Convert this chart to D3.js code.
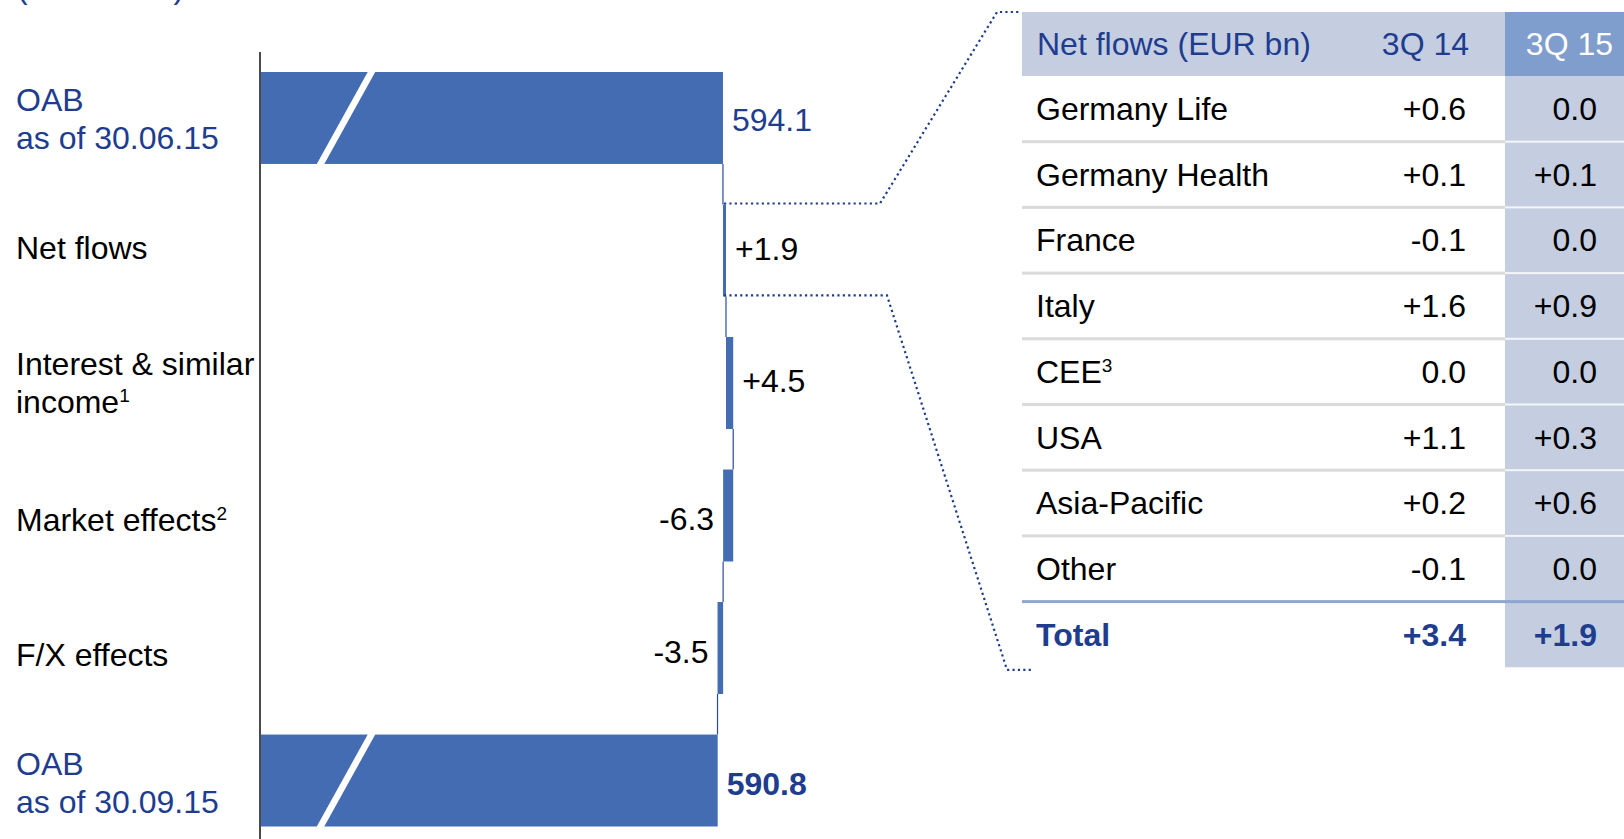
<!DOCTYPE html>
<html>
<head>
<meta charset="utf-8">
<script src="https://cdn.jsdelivr.net/npm/d3@7"></script>
<style>
  html, body { margin: 0; padding: 0; background: #fff; }
  svg { display: block; font-family: "Liberation Sans", Arial, sans-serif; }
</style>
</head>
<body>
<svg id="chart" width="1624" height="839"></svg>
<script>
// ---- Waterfall: OAB development (EUR bn) ----
const unitNote   = "(in EUR bn)";
const stepLabels = [["OAB", "as of 30.06.15"], ["Net flows"], ["Interest & similar", "income"],
                    ["Market effects"], ["F/X effects"], ["OAB", "as of 30.09.15"]];
const stepNotes  = ["", "", "1", "2", "", ""];
const stepKinds  = ["total", "delta", "delta", "delta", "delta", "total"];
const stepValues = [594.1, 1.9, 4.5, -6.3, -3.5, 590.8];

// ---- Net flows by region ----
const tableColumns = ["Net flows (EUR bn)", "3Q 14", "3Q 15"];
const regions      = ["Germany Life", "Germany Health", "France", "Italy", "CEE", "USA", "Asia-Pacific", "Other"];
const regionNotes  = ["", "", "", "", "3", "", "", ""];
const flows3Q14    = [0.6, 0.1, -0.1, 1.6, 0.0, 1.1, 0.2, -0.1];
const flows3Q15    = [0.0, 0.1, 0.0, 0.9, 0.0, 0.3, 0.6, 0.0];
const totalLabel   = "Total";
const totals       = [3.4, 1.9];

// ---- styling / layout ----
const BLUE_TEXT = "#1e3d8f";
const BAR = "#446cb3";
const FS = 32;
const SUP = 19;
// small vertical offsets of the row captions and value labels (px)
const captionShift = [1, -3, 0, 4, 7, 2];
const valueShift   = [2, -2, -2, 3, 4, 3];

const fmtDelta = v => v === 0 ? "0.0" : (v > 0 ? "+" : "-") + Math.abs(v).toFixed(1);
const fmtTotal = d3.format(".1f");

const svg = d3.select("#chart");

// running totals for the waterfall
let run = 0;
const steps = stepValues.map((v, i) => {
  let s;
  if (stepKinds[i] === "total") { s = { i, v, kind: "total", from: null, to: v }; run = v; }
  else { s = { i, v, kind: "delta", from: run, to: run + v }; run += v; }
  s.end = run;
  return s;
});

// value axis is broken: totals start at the axis line, deltas are to scale
const axisX = 260;
const x = d3.scaleLinear().domain([590, 600]).range([716.4, 732.4]);
const y = d3.scaleBand().domain(d3.range(stepValues.length)).range([72, 826.5]).paddingInner(0.306);
const bw = y.bandwidth();
const cy = i => y(i) + bw / 2;

// unit note (partly above the visible area)
svg.append("text").attr("x", 17).attr("y", -2)
  .attr("font-size", FS).attr("fill", BLUE_TEXT).text(unitNote);

// category labels
steps.forEach(s => {
  const lines = stepLabels[s.i];
  const lh = 38.3;
  const blue = s.kind === "total";
  lines.forEach((ln, k) => {
    const t = svg.append("text")
      .attr("x", 16)
      .attr("y", cy(s.i) + captionShift[s.i] + (k - (lines.length - 1) / 2) * lh)
      .attr("dy", "0.35em")
      .attr("font-size", FS)
      .attr("fill", blue ? BLUE_TEXT : "#000")
      .text(ln);
    if (k === lines.length - 1 && stepNotes[s.i]) {
      t.append("tspan").attr("font-size", SUP).attr("dy", -11).text(stepNotes[s.i]);
    }
  });
});

// connectors between consecutive bars
const conn = svg.append("g").attr("stroke", "#2b4a9a").attr("stroke-width", 1.2);
steps.slice(0, -1).forEach(s => {
  const xx = x(s.end);
  conn.append("line").attr("x1", xx).attr("x2", xx)
    .attr("y1", y(s.i) + bw).attr("y2", y(s.i + 1));
});

// bars
steps.forEach(s => {
  if (s.kind === "total") {
    svg.append("rect").attr("x", axisX).attr("y", y(s.i))
      .attr("width", x(s.to) - axisX).attr("height", bw).attr("fill", BAR);
    // break mark
    const top = y(s.i) - 0.5, bot = y(s.i) + bw + 0.5;
    svg.append("polygon")
      .attr("points", [[axisX + 108, top], [axisX + 115.5, top], [axisX + 64, bot], [axisX + 56.5, bot]].join(" "))
      .attr("fill", "#fff");
  } else {
    const a = x(Math.min(s.from, s.to)), b = x(Math.max(s.from, s.to));
    svg.append("rect").attr("x", a).attr("y", y(s.i))
      .attr("width", b - a).attr("height", bw).attr("fill", BAR);
  }
});

// axis line
svg.append("line").attr("x1", axisX).attr("x2", axisX).attr("y1", 52).attr("y2", 839)
  .attr("stroke", "#4a4a4a").attr("stroke-width", 2);

// value labels
steps.forEach(s => {
  const t = svg.append("text").attr("y", cy(s.i) + valueShift[s.i]).attr("dy", "0.35em").attr("font-size", FS);
  if (s.kind === "total") {
    t.attr("x", x(s.to) + 9).attr("fill", BLUE_TEXT)
      .attr("font-weight", s.i === steps.length - 1 ? "bold" : "normal")
      .text(fmtTotal(s.v));
  } else if (s.v >= 0) {
    t.attr("x", x(s.to) + 9).attr("fill", "#000").text(fmtDelta(s.v));
  } else {
    t.attr("x", x(s.from + s.v) - 9).attr("text-anchor", "end").attr("fill", "#000").text(fmtDelta(s.v));
  }
});

// ---- table ----
const tLeft = 1022, tRight = 1624, col15Left = 1505;
const headTop = 12, headBottom = 76;
const rowCount = regions.length + 1;
const ry = d3.scaleBand().domain(d3.range(rowCount)).range([headBottom, headBottom + 65.7 * rowCount]);
const tBottom = ry(rowCount - 1) + ry.bandwidth();
const labelX = 1036, c14X = 1466, c15X = 1597;

// header
svg.append("rect").attr("x", tLeft).attr("y", headTop).attr("width", col15Left - tLeft)
  .attr("height", headBottom - headTop).attr("fill", "#c5cee1");
svg.append("rect").attr("x", col15Left).attr("y", headTop).attr("width", tRight - col15Left)
  .attr("height", headBottom - headTop).attr("fill", "#7f9dcd");
const hy = (headTop + headBottom) / 2;
svg.append("text").attr("x", labelX + 1).attr("y", hy).attr("dy", "0.35em").attr("font-size", FS)
  .attr("fill", BLUE_TEXT).text(tableColumns[0]);
svg.append("text").attr("x", 1469).attr("y", hy).attr("dy", "0.35em").attr("font-size", FS)
  .attr("text-anchor", "end").attr("fill", BLUE_TEXT).text(tableColumns[1]);
svg.append("text").attr("x", 1613).attr("y", hy).attr("dy", "0.35em").attr("font-size", FS)
  .attr("text-anchor", "end").attr("fill", "#fff").text(tableColumns[2]);

// 3Q 15 column shading
svg.append("rect").attr("x", col15Left).attr("y", headBottom).attr("width", tRight - col15Left)
  .attr("height", tBottom - headBottom).attr("fill", "#c5cee1");

// row separators
for (let r = 1; r < regions.length; r++) {
  const yy = ry(r);
  svg.append("rect").attr("x", tLeft).attr("y", yy - 1.5).attr("width", col15Left - tLeft)
    .attr("height", 3).attr("fill", "#dadada");
  svg.append("rect").attr("x", col15Left).attr("y", yy - 1).attr("width", tRight - col15Left)
    .attr("height", 2).attr("fill", "#f4f6fa");
}
svg.append("rect").attr("x", tLeft).attr("y", ry(regions.length) - 1.5).attr("width", tRight - tLeft)
  .attr("height", 3).attr("fill", "#8ea6d2");

// rows
regions.forEach((name, r) => {
  const yy = ry(r) + ry.bandwidth() / 2;
  const t = svg.append("text").attr("x", labelX).attr("y", yy).attr("dy", "0.35em")
    .attr("font-size", FS).attr("fill", "#000").text(name);
  if (regionNotes[r]) t.append("tspan").attr("font-size", SUP).attr("dy", -11).text(regionNotes[r]);
  svg.append("text").attr("x", c14X).attr("y", yy).attr("dy", "0.35em").attr("font-size", FS)
    .attr("text-anchor", "end").attr("fill", "#000").text(fmtDelta(flows3Q14[r]));
  svg.append("text").attr("x", c15X).attr("y", yy).attr("dy", "0.35em").attr("font-size", FS)
    .attr("text-anchor", "end").attr("fill", "#000").text(fmtDelta(flows3Q15[r]));
});
{
  const yy = ry(regions.length) + ry.bandwidth() / 2;
  const g = svg.append("g").attr("font-size", FS).attr("font-weight", "bold").attr("fill", BLUE_TEXT);
  g.append("text").attr("x", labelX).attr("y", yy).attr("dy", "0.35em").text(totalLabel);
  g.append("text").attr("x", c14X).attr("y", yy).attr("dy", "0.35em").attr("text-anchor", "end").text(fmtDelta(totals[0]));
  g.append("text").attr("x", c15X).attr("y", yy).attr("dy", "0.35em").attr("text-anchor", "end").text(fmtDelta(totals[1]));
}

// dotted call-out from the net flows bar to the table
const nf = steps[1];
const nfX = x(nf.from) + 1;
const line = d3.line();
const dotted = svg.append("g").attr("fill", "none").attr("stroke", "#1f3c8c")
  .attr("stroke-width", 2.2).attr("stroke-dasharray", "2.2,3.2");
dotted.append("path").attr("d", line([[nfX, y(1) - 1], [880, y(1) - 1], [997, headTop], [tLeft - 2, headTop]]));
dotted.append("path").attr("d", line([[nfX, y(1) + bw - 1], [887, y(1) + bw - 1], [1007, tBottom + 2.5], [1033, tBottom + 2.5]]));
</script>
</body>
</html>
